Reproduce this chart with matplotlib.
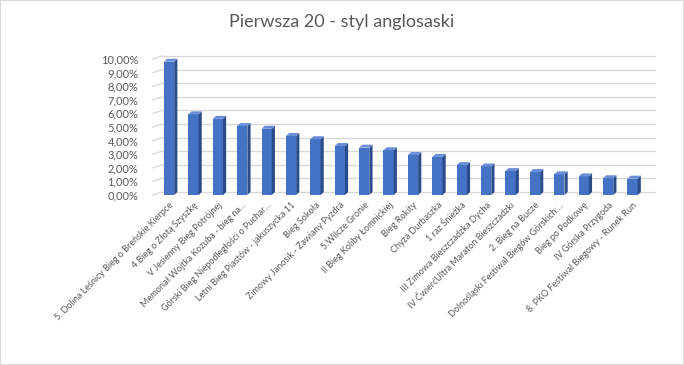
import matplotlib.pyplot as plt
from matplotlib.patches import Polygon, Rectangle

plt.rcParams['font.family'] = ['Lato', 'DejaVu Sans']

labels = [
    '5. Dolina Leśnicy Bieg o Breńskie Kierpce',
    '4.Bieg o Złotą Szyszkę',
    'V Jesienny Bieg Potrójnej',
    'Memoriał Wojtka Kozuba - bieg na…',
    'Górski Bieg Niepodległości o Puchar…',
    'Letni Bieg Piastów - jakuszycka 11',
    'Bieg Sokoła',
    'Zimowy Janosik - Zawiany Pyzdra',
    '5.Wilcze Gronie',
    'II Bieg Koliby Łomnickiej',
    'Bieg Rokity',
    'Chyża Durbaszka',
    '1 raz Śnieżka',
    'III Zimowa Bieszczadzka Dycha',
    'IV ĆwierćUltra Maraton Bieszczadzki',
    '2. Bieg na Bucze',
    'Dolnośląski Festiwal Biegów Górskich:…',
    'Bieg po Podkowę',
    'IV Górska Przygoda',
    '8. PKO Festiwal Biegowy - Runek Run',
]
shares = [9.8, 5.93, 5.6, 5.07, 4.87, 4.34, 4.1, 3.6, 3.48, 3.29,
          2.94, 2.8, 2.2, 2.1, 1.76, 1.69, 1.52, 1.37, 1.23, 1.2]
yticks = list(range(0, 11))

front = '#4472C4'
side = '#2B4C8A'
top = '#6A8FD8'
grid = '#D9D9D9'
text = '#595959'

fig = plt.figure(figsize=(6.84, 3.65), dpi=100)
fig.patches.append(Rectangle((0, 0), 1, 1, transform=fig.transFigure,
                             fill=False, edgecolor='#D9D9D9', lw=1.5))
ax = fig.add_axes([162 / 684, 170 / 365, 493 / 684, 136 / 365])
ax.set_xlim(-0.29, 19.92)
ax.set_ylim(0, 10)

# depth of the 3d effect, in data units (~3 px)
dx = 0.13
dy = 0.22
w = 0.42

# back wall gridlines with side-wall diagonal
for t in yticks:
    ax.plot([-0.29, 19.92], [t + dy, t + dy], color=grid, lw=1, zorder=0, clip_on=False)
    ax.plot([-0.29 - 0.37, -0.29], [t, t + dy], color=grid, lw=1, zorder=0, clip_on=False)

xs = list(range(len(shares)))
ax.bar(xs, shares, width=w, color=front, zorder=2, clip_on=False)
for x, h in zip(xs, shares):
    r = x + w / 2
    l = x - w / 2
    ax.add_patch(Polygon([(r, 0), (r + dx, dy), (r + dx, h + dy), (r, h)],
                         closed=True, facecolor=side, edgecolor='none', zorder=2, clip_on=False))
    ax.add_patch(Polygon([(l, h), (l + dx, h + dy), (r + dx, h + dy), (r, h)],
                         closed=True, facecolor=top, edgecolor='none', zorder=2, clip_on=False))

for s in ax.spines.values():
    s.set_visible(False)
ax.set_yticks(yticks)
ax.set_yticklabels(['%d,00%%' % t for t in yticks], color=text, fontsize=8)
ax.tick_params(axis='y', length=0, pad=17)
ax.set_xticks(xs)
ax.set_xticklabels(labels, rotation=45, ha='right', rotation_mode='anchor',
                   color=text, fontsize=6.5)
ax.tick_params(axis='x', length=0, pad=4)

fig.text(0.5, 0.94, 'Pierwsza 20 - styl anglosaski', ha='center', va='center',
         color=text, fontsize=13)

fig.savefig('out.png', dpi=100)
